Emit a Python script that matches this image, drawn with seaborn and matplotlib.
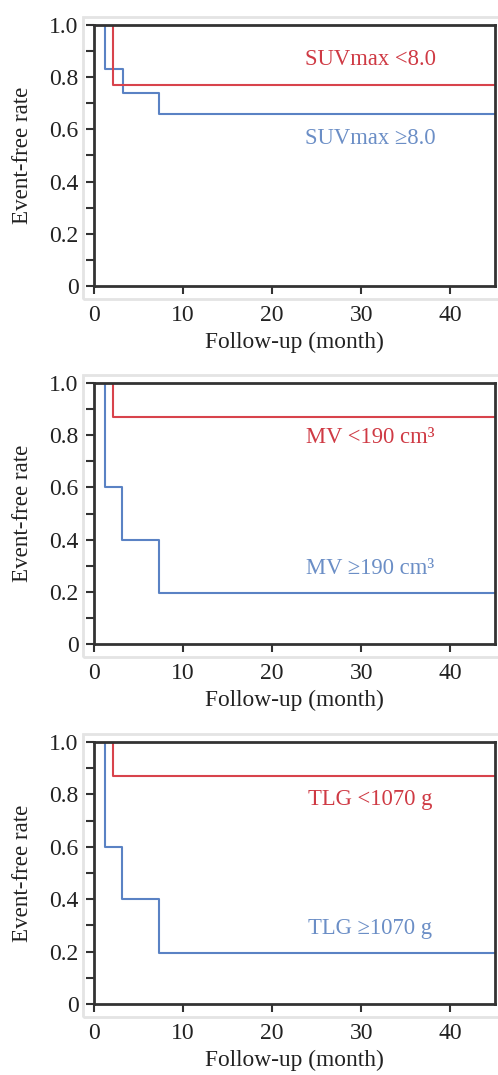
import numpy as np
import pandas as pd
import matplotlib
matplotlib.use('Agg')
import matplotlib.pyplot as plt
import seaborn as sns
from matplotlib.patches import Rectangle

sns.set_style('ticks')
plt.rcParams['font.family'] = ['Liberation Serif', 'DejaVu Serif']

# ---------------------------------------------------------
# DATA
# ---------------------------------------------------------
suv_low_time = [0, 2.1, 45]
suv_low_rate = [1.0, 0.77, 0.77]
suv_high_time = [0, 1.2, 3.2, 7.3, 45]
suv_high_rate = [1.0, 0.83, 0.74, 0.66, 0.66]

mv_low_time = [0, 2.1, 45]
mv_low_rate = [1.0, 0.87, 0.87]
mv_high_time = [0, 1.2, 3.1, 7.3, 45]
mv_high_rate = [1.0, 0.60, 0.40, 0.195, 0.195]

tlg_low_time = [0, 2.1, 45]
tlg_low_rate = [1.0, 0.87, 0.87]
tlg_high_time = [0, 1.2, 3.1, 7.3, 45]
tlg_high_rate = [1.0, 0.60, 0.40, 0.195, 0.195]

panel_labels = [
    ('SUVmax <8.0', 'SUVmax \u22658.0'),
    ('MV <190 cm\u00b3', 'MV \u2265190 cm\u00b3'),
    ('TLG <1070 g', 'TLG \u22651070 g'),
]
label_pos = [((31, 0.866), (31, 0.567)),
             ((31, 0.79), (31, 0.29)),
             ((31, 0.78), (31, 0.287))]

x_ticks = [0, 10, 20, 30, 40]
y_ticks = [0, 0.2, 0.4, 0.6, 0.8, 1.0]
y_ticklabels = ['0', '0.2', '0.4', '0.6', '0.8', '1.0']

RED = '#d8434c'
BLUE = '#5a82c4'
RED_TXT = '#cf3a44'
BLUE_TXT = '#6b8ec6'


def make_df(lt, lr, ht, hr):
    low = pd.DataFrame({'time': lt, 'rate': lr, 'group': 'low'})
    high = pd.DataFrame({'time': ht, 'rate': hr, 'group': 'high'})
    return pd.concat([low, high], ignore_index=True)


panels = [
    make_df(suv_low_time, suv_low_rate, suv_high_time, suv_high_rate),
    make_df(mv_low_time, mv_low_rate, mv_high_time, mv_high_rate),
    make_df(tlg_low_time, tlg_low_rate, tlg_high_time, tlg_high_rate),
]

W, H = 498, 1075
fig = plt.figure(figsize=(W / 100, H / 100), dpi=100)

# pixel positions of axes (left, top, right, bottom)
ax_boxes = [(94, 25, 495, 286), (94, 383, 495, 644), (94, 742, 495, 1004)]

for i, df in enumerate(panels):
    l, t, r, b = ax_boxes[i]
    # light grey frame around each graph
    fig.patches.append(Rectangle(((l - 11) / W, 1 - (b + 13) / H),
                                 (W - l + 20) / W, (b - t + 21) / H,
                                 transform=fig.transFigure, fill=False,
                                 edgecolor='#e4e4e4', lw=2, zorder=0))
    ax = fig.add_axes([l / W, 1 - b / H, (r - l) / W, (b - t) / H])
    sns.lineplot(data=df, x='time', y='rate', hue='group',
                 palette={'low': RED, 'high': BLUE}, hue_order=['high', 'low'],
                 estimator=None, drawstyle='steps-post', lw=1.5,
                 legend=False, ax=ax)
    ax.set_xlim(0, 45)
    ax.set_ylim(0, 1.0)
    ax.set_xticks(x_ticks)
    ax.set_xticklabels([str(v) for v in x_ticks])
    ax.set_yticks(y_ticks)
    ax.set_yticklabels(y_ticklabels)
    ax.set_yticks(np.arange(0.1, 1.0, 0.2), minor=True)
    ax.tick_params(axis='both', which='both', direction='out', length=6,
                   width=1.5, color='#333333', labelsize=17,
                   labelcolor='#222222')
    ax.tick_params(axis='x', pad=8)
    ax.tick_params(axis='y', pad=5)
    for s in ax.spines.values():
        s.set_visible(True)
        s.set_linewidth(2)
        s.set_color('#333333')
    ax.set_xlabel('Follow-up (month)', fontsize=16.8, color='#222222', labelpad=4)
    ax.set_ylabel('Event-free rate', fontsize=16.6, color='#222222', labelpad=12)

    (lo_txt, hi_txt) = panel_labels[i]
    (lx, ly), (hx, hy) = label_pos[i]
    ax.text(lx, ly, lo_txt, color=RED_TXT, fontsize=16.3, ha='center', va='center')
    ax.text(hx, hy, hi_txt, color=BLUE_TXT, fontsize=16.3, ha='center', va='center')

fig.savefig('out.png', dpi=100)
